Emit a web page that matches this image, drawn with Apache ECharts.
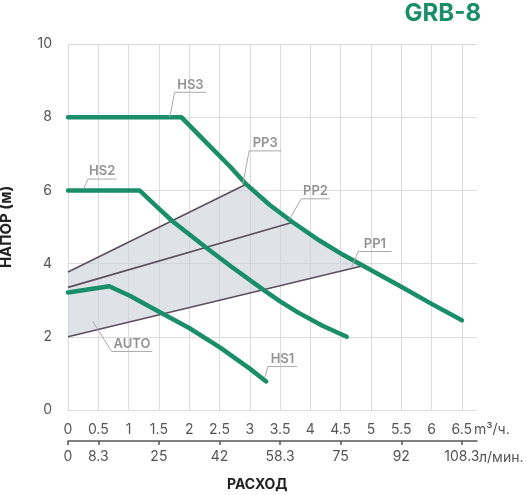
<!DOCTYPE html>
<html lang="ru">
<head>
    <meta charset="UTF-8">
    <title>GRB-8</title>
    <script src="https://cdn.jsdelivr.net/npm/echarts@6/dist/echarts.min.js"></script>
    <style>
        html, body { margin: 0; padding: 0; background: #fff; }
        #chart { width: 527px; height: 495px; }
    </style>
</head>
<body>
<div id="chart"></div>
<script>
    // расход м³/ч -> напор м
    var hs1 = [[0, 3.21], [0.68, 3.38], [1.02, 3.12], [1.54, 2.65], [2, 2.24], [2.5, 1.72], [3, 1.13], [3.27, 0.78]];
    var hs2 = [[0, 6], [1.18, 6], [1.5, 5.5], [1.73, 5.15], [2.31, 4.4], [2.67, 3.95], [3.22, 3.29], [3.5, 2.97], [3.8, 2.66], [4.2, 2.3], [4.6, 2.0]];
    var hs3 = [[0, 8], [1.87, 8], [2.3, 7.28], [2.67, 6.66], [2.94, 6.17], [3.33, 5.6], [3.71, 5.13], [4.15, 4.63], [4.54, 4.24], [4.87, 3.94], [5.5, 3.37], [6, 2.9], [6.5, 2.45]];
    var pp1 = [[0, 2.0], [4.87, 3.94]];
    var pp2 = [[0, 3.35], [3.71, 5.13]];
    var pp3 = [[0, 3.77], [2.94, 6.17]];

    var m3Ticks = [0, 0.5, 1, 1.5, 2, 2.5, 3, 3.5, 4, 4.5, 5, 5.5, 6, 6.5];
    var lminTicks = [0, 0.5, 1.5, 2.5, 3.5, 4.5, 5.5, 6.5];
    var lminLabels = ['0', '8.3', '25', '42', '58.3', '75', '92', '108.3'];

    // подписи с выносками: точка на кривой, излом, конец полки
    var callouts = [
        { text: 'HS3', pts: [[1.68, 8.0], [1.76, 8.68], [2.28, 8.68]] },
        { text: 'HS2', pts: [[0.26, 6.05], [0.33, 6.31], [0.80, 6.31]] },
        { text: 'PP3', pts: [[2.88, 6.13], [2.99, 7.08], [3.52, 7.08]] },
        { text: 'PP2', pts: [[3.65, 5.2], [3.85, 5.77], [4.32, 5.77]] },
        { text: 'PP1', pts: [[4.68, 3.9], [4.79, 4.33], [5.34, 4.33]] },
        { text: 'AUTO', pts: [[0.41, 2.42], [0.72, 1.6], [1.39, 1.6]] },
        { text: 'HS1', pts: [[3.25, 0.9], [3.30, 1.19], [3.78, 1.19]] }
    ];

    // зона AUTO: PP1 снизу, HS3 справа, PP3 сверху
    var autoZone = pp1.concat(
        hs3.filter(function(p) { return p[0] > pp3[1][0] && p[0] < pp1[1][0]; }).reverse(),
        pp3.slice().reverse()
    );

    var green = '#1a8e69';
    var purple = '#5e4d5f';
    var font = 'Inter';

    var chart = echarts.init(document.getElementById('chart'));

    function hsSeries(name, data) {
        return {
            name: name,
            type: 'line',
            data: data,
            z: 4,
            symbol: 'none',
            lineStyle: { color: green, width: 4.5, cap: 'round', join: 'round' }
        };
    }

    function ppSeries(name, data) {
        return {
            name: name,
            type: 'line',
            data: data,
            z: 3,
            symbol: 'none',
            lineStyle: { color: purple, width: 1.6 }
        };
    }

    chart.setOption({
        animation: false,
        textStyle: { fontFamily: font },
        title: [{
            text: 'GRB-8',
            right: 41,
            top: -3,
            textStyle: { color: green, fontSize: 24, fontWeight: 'bold', fontFamily: font }
        }, {
            text: 'РАСХОД',
            left: 222,
            top: 473,
            textStyle: { color: '#222', fontSize: 14, fontWeight: 'bold', fontFamily: font }
        }],
        grid: { left: 68, right: 50, top: 44, bottom: 85, outerBoundsMode: 'none' },
        xAxis: [{
            type: 'value',
            min: 0,
            max: 6.75,
            interval: 0.5,
            axisLine: { show: false },
            axisTick: { show: false, customValues: m3Ticks },
            axisLabel: { customValues: m3Ticks, color: '#555', fontSize: 14, margin: 13, fontFamily: font },
            splitLine: { show: true, lineStyle: { color: '#dcdcdc', width: 1 } },
            name: 'm³/ч.',
            nameLocation: 'end',
            nameGap: -3,
            nameMoveOverlap: false,
            nameTextStyle: { color: '#555', fontSize: 14, fontFamily: font, verticalAlign: 'top', lineHeight: 16, padding: [12, 0, 0, 0] }
        }, {
            type: 'value',
            min: 0,
            max: 6.75,
            position: 'bottom',
            offset: 31,
            axisLine: { show: true, lineStyle: { color: '#555', width: 1.5 } },
            axisTick: { show: true, customValues: lminTicks, length: 4, lineStyle: { color: '#555', width: 1.5 } },
            axisLabel: {
                customValues: lminTicks,
                color: '#555',
                fontSize: 14,
                margin: 9,
                fontFamily: font,
                formatter: function(v) {
                    var k = lminTicks.indexOf(v);
                    return k >= 0 ? lminLabels[k] : '';
                }
            },
            splitLine: { show: false },
            name: 'л/мин.',
            nameLocation: 'end',
            nameGap: 2,
            nameMoveOverlap: false,
            nameTextStyle: { color: '#555', fontSize: 14, fontFamily: font, verticalAlign: 'top', lineHeight: 16, padding: [9, 0, 0, 0] }
        }],
        yAxis: {
            type: 'value',
            min: 0,
            max: 10,
            interval: 2,
            axisLine: { show: false },
            axisTick: { show: false },
            axisLabel: { color: '#555', fontSize: 14, margin: 16, fontFamily: font },
            splitLine: { show: true, lineStyle: { color: '#dcdcdc', width: 1 } },
            name: 'НАПОР (м)',
            nameLocation: 'middle',
            nameGap: 54,
            nameTextStyle: { color: '#222', fontSize: 15, fontWeight: 'bold', fontFamily: font }
        },
        series: [{
            name: 'AUTO',
            type: 'custom',
            z: 2,
            data: [0],
            renderItem: function(params, api) {
                return {
                    type: 'polygon',
                    shape: { points: autoZone.map(function(p) { return api.coord(p); }) },
                    style: { fill: 'rgba(203, 210, 217, 0.62)' }
                };
            }
        },
            ppSeries('PP1', pp1),
            ppSeries('PP2', pp2),
            ppSeries('PP3', pp3),
            hsSeries('HS1', hs1),
            hsSeries('HS2', hs2),
            hsSeries('HS3', hs3),
        {
            name: 'labels',
            type: 'custom',
            z: 5,
            data: callouts.map(function(c, i) { return i; }),
            renderItem: function(params, api) {
                var c = callouts[params.dataIndex];
                var pts = c.pts.map(function(p) { return api.coord(p); });
                var a = pts[1], b = pts[2];
                return {
                    type: 'group',
                    children: [{
                        type: 'polyline',
                        shape: { points: pts },
                        style: { stroke: '#a9a9a9', lineWidth: 1, fill: null }
                    }, {
                        type: 'text',
                        x: (a[0] + b[0]) / 2,
                        y: a[1] - 1,
                        style: {
                            text: c.text,
                            fill: '#939393',
                            font: '600 13px ' + font,
                            textAlign: 'center',
                            textVerticalAlign: 'bottom'
                        }
                    }]
                };
            }
        }]
    });
</script>
</body>
</html>
